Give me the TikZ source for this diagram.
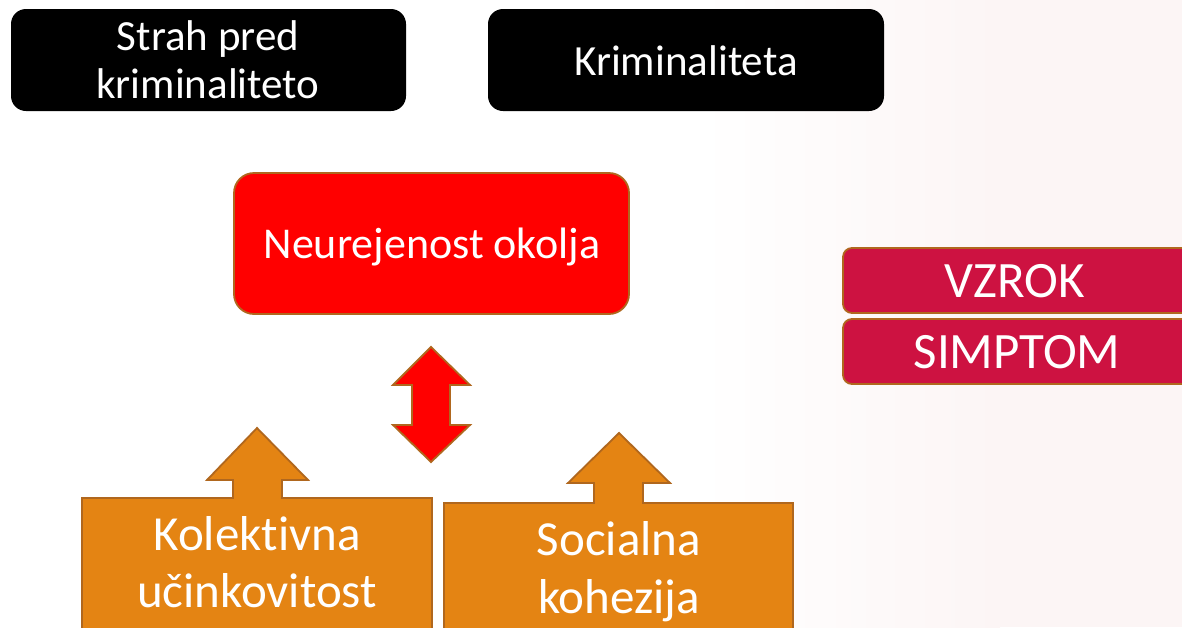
\documentclass[tikz,border=0pt]{standalone}
\usepackage{fontspec}
\setmainfont{Carlito}[Ligatures=NoCommon]
\definecolor{brd}{HTML}{B0671E}
\definecolor{orng}{HTML}{E48413}
\definecolor{crim}{HTML}{CD1241}
\definecolor{pinkbg}{HTML}{FCF5F5}
\begin{document}
\begin{tikzpicture}[x=1pt,y=-1pt,
  txt/.style={text=white,inner sep=0pt,anchor=base},
  blackbox/.style={fill=black,rounded corners=15pt},
  redbox/.style={fill=red,draw=brd,line width=1.8pt,rounded corners=20pt},
  tagbox/.style={fill=crim,draw=brd,line width=1.8pt,rounded corners=9pt},
  arrshape/.style={draw=brd,line width=1.8pt,line join=miter},
  fblack/.style={font=\fontsize{43}{48}\selectfont},
  fred/.style={font=\fontsize{44}{50}\selectfont},
  forange/.style={font=\fontsize{49}{57}\selectfont},
  ftag/.style={font=\fontsize{51}{60}\selectfont}]
\useasboundingbox (0,0) rectangle (1182,627);
\fill[white] (0,0) rectangle (1182,627);
\shade[left color=white,right color=pinkbg] (700,0) rectangle (1000,627);
\fill[pinkbg] (1000,0) rectangle (1182,627);
% black boxes
\fill[blackbox] (11,9) rectangle (406,111);
\node[txt,fblack] (strah1) at (208,50) {Strah pred};
\node[txt,fblack] (strah2) at (208,98) {kriminaliteto};
\fill[blackbox] (488,9) rectangle (884,111);
\node[txt,fblack] (krim) at (686,75) {Kriminaliteta};
% red box
\path[redbox] (234,173) rectangle (629,314);
\node[txt,fred] (neur) at (432,258) {Neurejenost okolja};
% double arrow
\path[arrshape,fill=red] (431,347) -- (470,385) -- (450,385) -- (450,425) -- (470,425) -- (431,462)
  -- (393,425) -- (412,425) -- (412,385) -- (393,385) -- cycle;
% orange boxes with arrows
\path[arrshape,fill=orng] (82,632) -- (82,498) -- (233,498) -- (233,480) -- (207,480) -- (257,428)
  -- (308,480) -- (282,480) -- (282,498) -- (432,498) -- (432,632);
\node[txt,forange] (kol1) at (257,550) {Kolektivna};
\node[txt,forange] (kol2) at (257,607) {učinkovitost};
\path[arrshape,fill=orng] (444,632) -- (444,503) -- (594,503) -- (594,483) -- (568,483) -- (619,433)
  -- (670,483) -- (643,483) -- (643,503) -- (793,503) -- (793,632);
\node[txt,forange] (soc1) at (619,555) {Socialna};
\node[txt,forange] (soc2) at (619,613) {kohezija};
% tags
\path[tagbox] (843,248) rectangle (1200,313);
\node[txt,ftag] (vzrok) at (1015,297) {VZROK};
\path[tagbox] (843,319) rectangle (1200,384);
\node[txt,ftag] (simp) at (1017,368) {SIMPTOM};
\end{tikzpicture}
\end{document}
